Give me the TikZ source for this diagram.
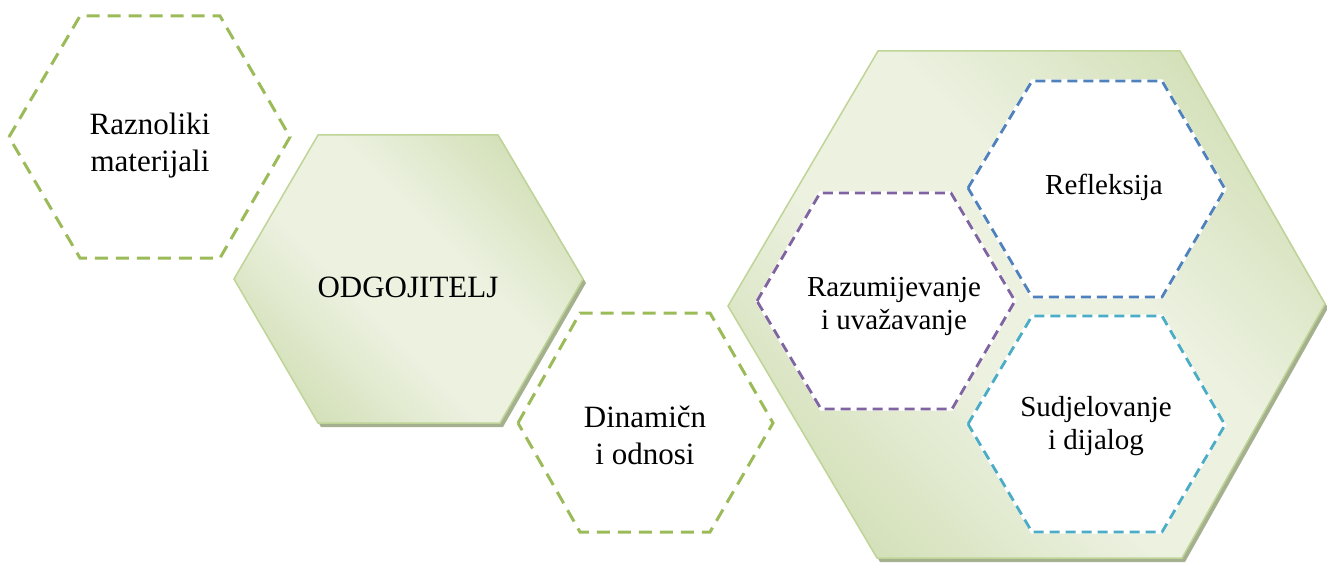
\documentclass[tikz,border=0pt]{standalone}
\usepackage{fontspec}
\setmainfont{Liberation Serif}
\definecolor{olivedash}{HTML}{9BBB59}
\definecolor{purpdash}{HTML}{8064A2}
\definecolor{bluedash}{HTML}{4F81BD}
\definecolor{tealdash}{HTML}{4BACC6}
\definecolor{hexdark}{HTML}{C9D9A8}
\definecolor{hexlight}{HTML}{ECF1E0}
\definecolor{hexline}{HTML}{BFD497}
\definecolor{hexshadow}{HTML}{A5B08E}
\pgfdeclareverticalshading{hexshade}{100bp}{color(0bp)=(hexdark); color(16bp)=(hexdark); color(42bp)=(hexlight); color(58bp)=(hexlight); color(84bp)=(hexdark); color(100bp)=(hexdark)}
\begin{document}
\begin{tikzpicture}[x=1pt,y=-1pt,
  outerdash/.style={draw=olivedash, line width=3pt, dash pattern=on 13pt off 8pt},
  innerhalo/.style={draw=white, fill=white, line width=3pt},
  innerdash/.style={line width=2.8pt, dash pattern=on 10pt off 6pt},
  filledhex/.style={shading=hexshade, shading angle=-45, draw=hexline, line width=1.5pt},
  shadowhex/.style={fill=hexshadow},
  bigtext/.style={font=\fontsize{31}{37}\selectfont, align=center, anchor=base, inner sep=0pt},
  smalltext/.style={font=\fontsize{29}{33}\selectfont, align=center, anchor=base, inner sep=0pt}]
\useasboundingbox (0,0) rectangle (1327,564);

% Raznoliki materijali
\draw[outerdash] (9,137) -- (80,16) -- (220,16) -- (290,137) -- (220,258) -- (80,258) -- cycle;
\node[bigtext] (raz) at (150,172) {Raznoliki\\materijali};

% ODGOJITELJ
\fill[shadowhex] (237,283) -- (321,139) -- (501,139) -- (586,283) -- (503,427) -- (321,427) -- cycle;
\path[filledhex] (234,279) -- (318,135) -- (498,135) -- (583,279) -- (500,423) -- (318,423) -- cycle;
\node[bigtext] (odg) at (408,297) {ODGOJITELJ};

% Dinamicn i odnosi
\draw[outerdash] (518,423) -- (580,313) -- (710,313) -- (773,423) -- (710,532) -- (580,532) -- cycle;
\node[bigtext] (din) at (645,464) {Dinamičn\\i odnosi};

% large hexagon
\fill[shadowhex] (731,310) -- (881,55) -- (1183,55) -- (1328,308) -- (1185,562) -- (880,562) -- cycle;
\path[filledhex] (728,306) -- (878,51) -- (1180,51) -- (1325,304) -- (1182,558) -- (877,558) -- cycle;

% inner hexagons
\path[innerhalo] (757,301) -- (820,193) -- (951,193) -- (1015,301) -- (952,409) -- (821,409) -- cycle;
\draw[innerdash, draw=purpdash] (757,301) -- (820,193) -- (951,193) -- (1015,301) -- (952,409) -- (821,409) -- cycle;
\path[innerhalo] (968,188) -- (1032,81) -- (1162,81) -- (1225,189) -- (1162,297) -- (1032,297) -- cycle;
\draw[innerdash, draw=bluedash] (968,188) -- (1032,81) -- (1162,81) -- (1225,189) -- (1162,297) -- (1032,297) -- cycle;
\path[innerhalo] (968,424) -- (1032,316) -- (1162,316) -- (1225,425) -- (1162,532) -- (1032,532) -- cycle;
\draw[innerdash, draw=tealdash] (968,424) -- (1032,316) -- (1162,316) -- (1225,425) -- (1162,532) -- (1032,532) -- cycle;

\node[smalltext] (razum) at (894,329) {Razumijevanje\\i uvažavanje};
\node[smalltext] (refl) at (1104,195) {Refleksija};
\node[smalltext] (sudj) at (1096,449) {Sudjelovanje\\i dijalog};
\end{tikzpicture}
\end{document}
